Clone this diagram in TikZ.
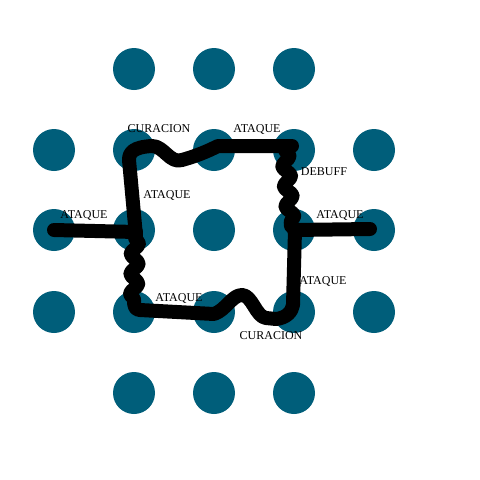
\documentclass[tikz,border=0pt]{standalone}
\usepackage{fontspec}
\setmainfont{Liberation Serif}
\usetikzlibrary{decorations.pathmorphing,calc}
\definecolor{dot}{HTML}{005E7A}
\tikzset{
  dotnode/.style={circle,fill=dot,inner sep=0pt,minimum size=42pt},
  link/.style={line width=14pt,line cap=round,line join=round,black},
  wavy/.style={link,decorate,decoration={snake,segment length=20pt,amplitude=4pt}},
  lbl/.style={font=\fontsize{12pt}{14pt}\selectfont,inner sep=0pt}
}
\begin{document}
\begin{tikzpicture}[x=1pt,y=-1pt]
\useasboundingbox (0,0) rectangle (480,480);
\fill[white] (0,0) rectangle (480,480);
% dots
\foreach \x/\i in {134/2,214/3,294/4} {\node[dotnode] (c1\i) at (\x,69) {};}
\foreach \x/\i in {54/1,134/2,214/3,294/4,374/5} {\node[dotnode] (c2\i) at (\x,150) {};}
\foreach \x/\i in {54/1,134/2,214/3,294/4,374/5} {\node[dotnode] (c3\i) at (\x,230) {};}
\foreach \x/\i in {54/1,134/2,214/3,294/4,374/5} {\node[dotnode] (c4\i) at (\x,312) {};}
\foreach \x/\i in {134/2,214/3,294/4} {\node[dotnode] (c5\i) at (\x,393) {};}
% connectors
\draw[link] (c31.center) -- ($(c32)+(2,2)$);
\draw[link] (c34.center) -- ($(c35)+(-4,-1)$);
\draw[link] ($(c32)+(2,6)$) -- ($(c22)+(-5,10)$)
  .. controls ($(c22)+(-5,2)$) and ($(c22)+(0,-3)$) .. ($(c22)+(18,-4)$)
  .. controls ($(c22)+(30,-4)$) and ($(c22)+(36,14)$) .. ($(c22)+(48,10)$)
  .. controls ($(c22)+(62,6)$) and ($(c22)+(72,2)$) .. ($(c23)+(4,-4)$)
  -- ($(c24)+(-2,-4)$);
\draw[wavy] ($(c24)+(-9,0)$) -- ($(c34)+(-3,-4)$);
\draw[link] ($(c34)+(1,0)$) -- ($(c44)+(-1,-7)$)
  .. controls ($(c44)+(-2,0)$) and ($(c44)+(-8,6)$) .. ($(c44)+(-18,7)$)
  -- ($(c44)+(-28,6)$)
  .. controls ($(c44)+(-38,5)$) and ($(c44)+(-42,-17)$) .. ($(c43)+(28,-17)$)
  .. controls ($(c43)+(18,-17)$) and ($(c43)+(12,-2)$) .. ($(c43)+(0,2)$)
  -- ($(c42)+(6,-2)$)
  .. controls ($(c42)+(1,-2)$) and ($(c42)+(0,-6)$) .. ($(c42)+(0,-12)$);
\draw[wavy] ($(c42)+(0,-12)$) -- ($(c32)+(1,6)$);
% labels
\node[lbl] (l1) at (159,129) {CURACION};
\node[lbl] (l2) at (257,129) {ATAQUE};
\node[lbl] (l3) at (167,195) {ATAQUE};
\node[lbl] (l4) at (324,172) {DEBUFF};
\node[lbl] (l5) at (84,215) {ATAQUE};
\node[lbl] (l6) at (340,215) {ATAQUE};
\node[lbl] (l7) at (323,281) {ATAQUE};
\node[lbl] (l8) at (179,298) {ATAQUE};
\node[lbl] (l9) at (271,336) {CURACION};
\end{tikzpicture}
\end{document}
